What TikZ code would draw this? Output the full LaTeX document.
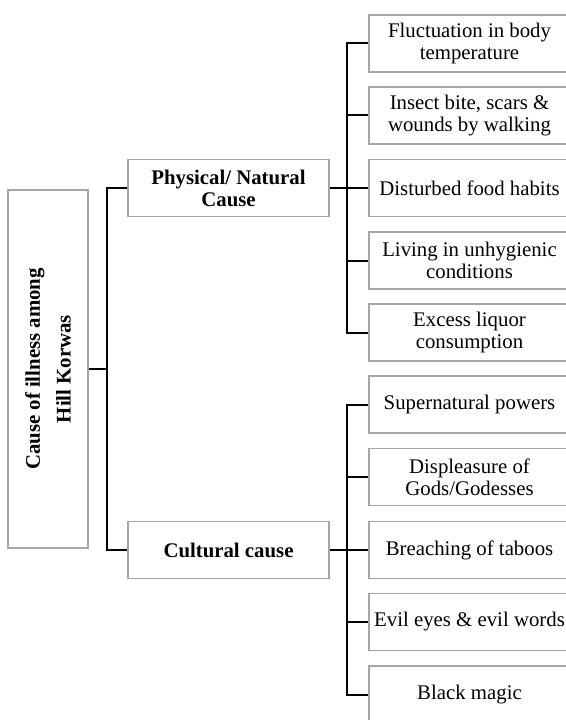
\documentclass[tikz,border=0pt]{standalone}
\usepackage{fontspec}
\setmainfont{Liberation Serif}
\begin{document}
\begin{tikzpicture}[x=0.75pt,y=-0.75pt,
  box/.style={draw=black!35,line width=0.9pt,fill=white,align=center,inner sep=0pt,
    font=\fontsize{15.6pt}{16.6pt}\selectfont},
  leaf/.style={box,minimum width=201*0.75pt,minimum height=57*0.75pt},
  mid/.style={box,minimum width=201*0.75pt,minimum height=57*0.75pt,font=\fontsize{15.6pt}{16.6pt}\selectfont\bfseries},
  conn/.style={draw=black,line width=1.5pt}]
\useasboundingbox (0,0) rectangle (566,720);
\begin{scope}
\clip (0,0) rectangle (566,720);
% root
\node[box,minimum width=358*0.75pt,minimum height=80*0.75pt,rotate=90,
  font=\fontsize{15.6pt}{23pt}\selectfont\bfseries] (root) at (48,369) {Cause of illness among\\Hill Korwas};
\node[mid] (phys) at (228.5,188) {Physical/ Natural\\Cause};
\node[mid] (cult) at (228.5,550) {Cultural cause};
% physical leaves
\node[leaf] (a1) at (469.5,43.5) {Fluctuation in body\\temperature};
\node[leaf] (a2) at (469.5,115.5) {Insect bite, scars \&\\wounds by walking};
\node[leaf] (a3) at (469.5,188) {Disturbed food habits};
\node[leaf] (a4) at (469.5,260.5) {Living in unhygienic\\conditions};
\node[leaf] (a5) at (469.5,332.5) {Excess liquor\\consumption};
% cultural leaves
\node[leaf] (b1) at (469.5,404.5) {Supernatural powers};
\node[leaf] (b2) at (469.5,477) {Displeasure of\\Gods/Godesses};
\node[leaf] (b3) at (469.5,550) {Breaching of taboos};
\node[leaf] (b4) at (469.5,622) {Evil eyes \& evil words};
\node[leaf] (b5) at (469.5,694.5) {Black magic};
% connectors
\coordinate (j0) at (108,369);
\draw[conn] (root.south) -- (j0);
\draw[conn] (phys.west) -- ++(-20,0) |- (cult.west);
\draw[conn] (phys.east) -- (a3.west);
\draw[conn] (a1.west) -- ++(-21,0) |- (a5.west);
\foreach \n in {a2,a4}{\draw[conn] (\n.west) -- ++(-21,0);}
\draw[conn] (cult.east) -- (b3.west);
\draw[conn] (b1.west) -- ++(-21,0) |- (b5.west);
\foreach \n in {b2,b4}{\draw[conn] (\n.west) -- ++(-21,0);}
\end{scope}
\end{tikzpicture}
\end{document}
